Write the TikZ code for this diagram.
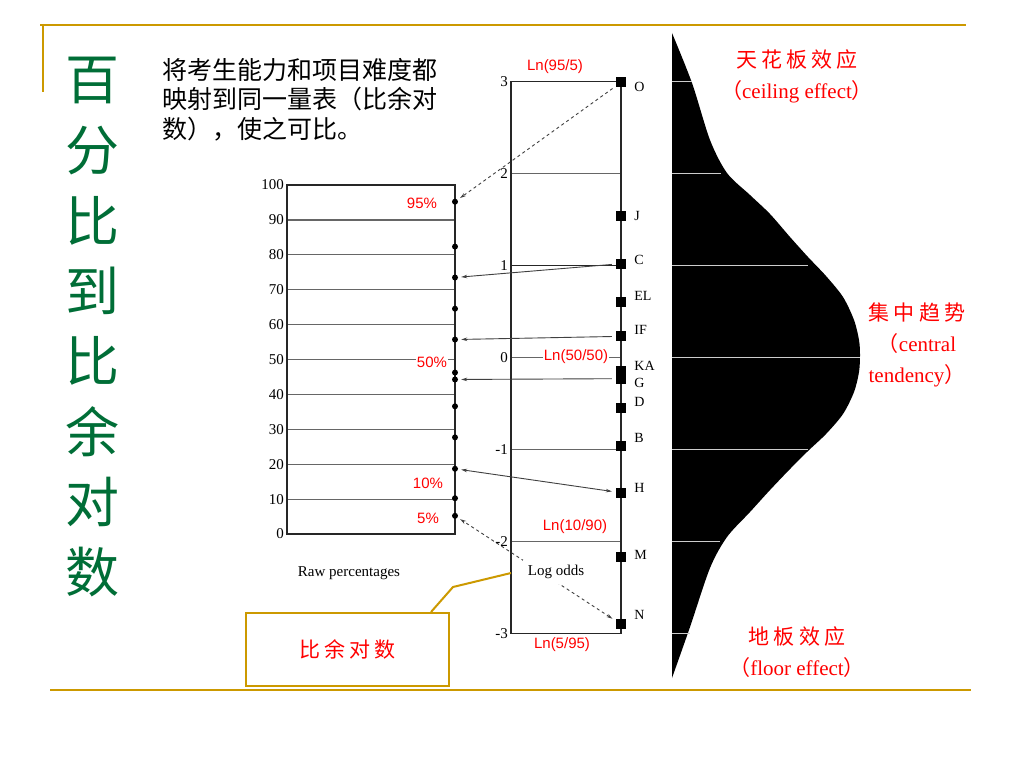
\documentclass[tikz,border=0pt]{standalone}
\usepackage{fontspec}
\setmainfont{Liberation Serif}
\newfontfamily\cjk{Noto Sans CJK SC}
\newfontfamily\cjkwide[LetterSpace=20]{Noto Sans CJK SC}
\newfontfamily\arialf{Liberation Sans}
\usepackage{tikz}
\usetikzlibrary{arrows.meta,positioning,calc}
\definecolor{gold}{RGB}{204,153,0}
\definecolor{titlegreen}{RGB}{0,110,55}

\begin{document}
\begin{tikzpicture}[x=1pt,y=-1pt]
  \tikzset{
    grid/.style={black!60, line width=1.2pt},
    axis/.style={black!85, line width=1.4pt},
    tick/.style={anchor=east, inner sep=1pt, font=\fontsize{15}{15}\selectfont},
    dot/.style={circle, fill=black, inner sep=0pt, minimum size=6pt},
    sq/.style={rectangle, fill=black, inner sep=0pt, minimum size=10pt},
    item/.style={anchor=west, inner sep=0pt, font=\fontsize{14}{14}\selectfont},
    link/.style={-{Stealth[length=6pt,width=3.5pt]}, black!75, line width=0.9pt, shorten >=3pt, shorten <=4pt},
    linkboth/.style={link, {Stealth[length=6pt,width=3.5pt]}-{Stealth[length=6pt,width=3.5pt]}},
    redlbl/.style={red, inner sep=1pt, font=\arialf\fontsize{15}{15}\selectfont},
    note/.style={red, align=center, inner sep=0pt, font=\fontsize{21}{31}\selectfont},
    gline/.style={gold, line width=2pt},
    level/.style={white!80!black, line width=1pt}
  }

  \fill[white] (0,0) rectangle (1024,768);
  \useasboundingbox (0,0) rectangle (1024,768);

  % slide frame
  \draw[gline] (40,25) -- (966,25);
  \draw[gline] (43,24) -- (43,92);
  \draw[gline] (50,690) -- (971,690);

  % vertical title
  \foreach \c [count=\i from 0] in {百,分,比,到,比,余,对,数}
    \node[titlegreen, font=\cjk\fontsize{54}{54}\selectfont] (t\i) at (92,{80+70.3*\i}) {\c};

  \node[anchor=north west, align=left, inner sep=0pt, font=\cjk\fontsize{25}{29.5}\selectfont] (intro) at (162,58)
    {将考生能力和项目难度都\\映射到同一量表（比余对\\数），使之可比。};

  % X/Y positions of the two scales
  \def\xA{287}\def\xB{455}\def\yZ{534}   % raw percentages, 3.49 per point
  \def\xC{511}\def\xD{621}\def\yO{357.5} % log odds, 92 per unit

  % ================= RAW PERCENTAGES =================
  \foreach \p in {10,20,...,90}
    \draw[grid] (\xA,{\yZ-3.49*\p}) -- (\xB,{\yZ-3.49*\p});
  \draw[axis] (\xA,\yZ-349) rectangle (\xB,\yZ);
  \foreach \p in {0,10,...,100}
    \node[tick] (r\p) at (\xA-2,{\yZ-3.49*\p}) {\p};
  \node[font=\fontsize{15}{15}\selectfont] (rawlbl) at (349,573) {Raw percentages};

  % ================= LOG ODDS =================
  \foreach \v in {-2,...,2}
    \draw[grid] (\xC,{\yO-92*(\v)}) -- (\xD,{\yO-92*(\v)});
  \draw[axis, line width=1.8pt] (\xC,\yO-92) -- (\xD,\yO-92);
  \draw[axis] (\xC,\yO-276) rectangle (\xD,\yO+276);
  \foreach \v in {-3,...,3}
    \node[tick] (k\v) at (\xC-2,{\yO-92*(\v)}) {\v};

  % items on the logit scale and their percentages
  \foreach \n/\v/\dy in {O/2.99/5, J/1.54/0, C/1.02/-4, EL/0.60/-6, IF/0.23/-6, KA/-0.15/-5,
                         G/-0.23/4, D/-0.55/-6, B/-0.96/-8, H/-1.47/-5, M/-2.17/-2, N/-2.90/-9} {
    \node[sq] (s\n) at (\xD,{\yO-92*(\v)}) {};
    \node[item] (l\n) at ($(s\n.east)+(8,\dy)$) {\n};
    \node[dot] (d\n) at (\xB,{\yZ-349/(1+exp(0-(\v)))}) {};
  }

  % mapping arrows
  \draw[link, dashed] (sO) -- (dO);
  \draw[link] (sC) -- (dC);
  \draw[link] (sIF) -- (dIF);
  \draw[link] (sG) -- (dG);
  \draw[linkboth] (sH) -- (dH);
  \draw[linkboth, dashed] (sN) -- (dN);
  \node[fill=white, inner sep=5pt, font=\fontsize{15}{15}\selectfont] (odds) at (556,572) {Log odds};

  % red annotations
  \node[redlbl] (ln1) at (555,67) {Ln(95/5)};
  \node[redlbl, fill=white] (ln2) at (576,357) {Ln(50/50)};
  \node[redlbl] (ln3) at (575,527) {Ln(10/90)};
  \node[redlbl] (ln4) at (562,645) {Ln(5/95)};
  \node[redlbl] (p95) at (422,203) {95\%};
  \node[redlbl, fill=white] (p50) at (432,362) {50\%};
  \node[redlbl] (p10) at (428,483) {10\%};
  \node[redlbl] (p5) at (428,518) {5\%};

  % callout box
  \node[draw=gold, line width=2pt, minimum width=203pt, minimum height=73pt, text=red,
        font=\cjkwide\fontsize{21}{21}\selectfont] (box) at (347.5,649.5) {比余对数};
  \coordinate (oddsaxis) at (\xC,573);
  \draw[gline] ([xshift=-19pt]box.north east) -- ++(22,-25) -- (oddsaxis);

  % ================= DISTRIBUTION =================
  \fill[black] plot[smooth, tension=0.5] coordinates {(672,33) (692,83) (710,140) (727,173) (750,195)
      (770,214) (790,237) (808,257) (826,276) (843,297) (854,320) (859,340) (860,355) (859,372)
      (854,392) (843,414) (826,434) (808,451) (790,469) (770,490) (750,512) (727,537) (710,568)
      (690,627) (672,678)} -- cycle;
  \foreach \v/\w in {3/692, 2/721, 1/808, 0/860, -1/808, -2/720, -3/690}
    \draw[level] (672,{\yO-92*(\v)}) -- (\w,{\yO-92*(\v)});

  \node[note] (ceil) at (797,76) {{\cjkwide 天花板效应}\\{\cjk （}ceiling effect{\cjk ）}};
  \node[note] (cent) at (917,345) {{\cjkwide 集中趋势}\\{\cjk （}central\\tendency{\cjk ）}};
  \node[note] (floor) at (797,652) {{\cjkwide 地板效应}\\{\cjk （}floor effect{\cjk ）}};

\end{tikzpicture}
\end{document}
